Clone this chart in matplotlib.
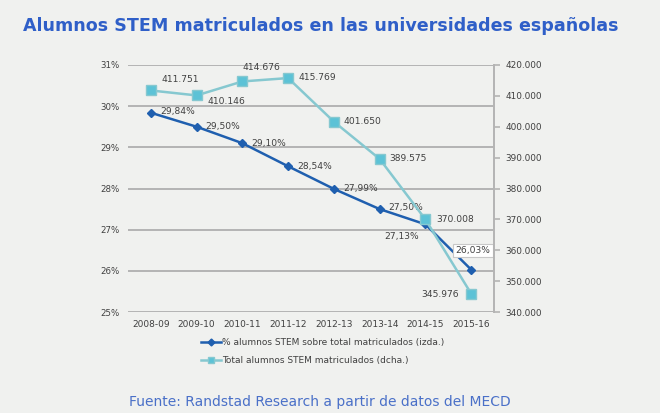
import matplotlib
matplotlib.use("Agg")
import matplotlib.pyplot as plt
from matplotlib.lines import Line2D

categories = ["2008-09", "2009-10", "2010-11", "2011-12", "2012-13", "2013-14", "2014-15", "2015-16"]
pct_stem = [29.84, 29.50, 29.10, 28.54, 27.99, 27.50, 27.13, 26.03]
total_stem = [411751, 410146, 414676, 415769, 401650, 389575, 370008, 345976]
left_ticks = [25, 26, 27, 28, 29, 30, 31]
right_ticks = [340000, 350000, 360000, 370000, 380000, 390000, 400000, 410000, 420000]

BG = "#f0f1ef"
DARK = "#1f5faf"
LIGHT = "#86c8d0"
LIGHT_FILL = "#5cc2d6"
TXT = "#404040"

fig = plt.figure(figsize=(6.6, 4.13), dpi=100, facecolor=BG)
ax = fig.add_axes([128/660, 1-312/413, (494-128)/660, (312-65)/413])
ax.set_facecolor(BG)
ax2 = ax.twinx()

x = list(range(len(categories)))

ax.plot(x, pct_stem, color=DARK, lw=1.8, marker="D", ms=4.5, mfc=DARK, mec=DARK, zorder=3)
ax2.plot(x, total_stem, color=LIGHT, lw=1.8, marker="s", ms=6.5, mfc=LIGHT_FILL, mec=LIGHT, zorder=3)

ax.set_xlim(-0.5, len(categories)-0.5)
ax.set_ylim(25, 31)
ax2.set_ylim(340000, 420000)

ax.set_yticks(left_ticks)
ax.set_yticklabels([f"{t}%" for t in left_ticks])
ax2.set_yticks(right_ticks)
ax2.set_yticklabels([f"{t//1000}.000" for t in right_ticks])
ax.set_xticks(x)
ax.set_xticklabels(categories)

ax.grid(axis="y", color="#b4b4b4", lw=1.4)
ax.set_axisbelow(True)
for s in ["top", "left", "bottom", "right"]:
    ax.spines[s].set_visible(False)
for s in ["top", "left", "bottom"]:
    ax2.spines[s].set_visible(False)
ax2.spines["right"].set_color("#b4b4b4")
ax2.spines["right"].set_linewidth(1.4)

ax.tick_params(axis="y", length=0, labelsize=6.2, labelcolor=TXT, pad=6)
ax.tick_params(axis="x", length=0, labelsize=6.5, labelcolor=TXT, pad=6)
ax2.tick_params(axis="y", length=4, color="#b4b4b4", width=1.2, labelsize=6.4, labelcolor=TXT, pad=4)

def fmt_pct(v):
    return f"{v:.2f}".replace(".", ",") + "%"

def fmt_tot(v):
    return f"{v//1000}.{v%1000:03d}"

FS = 6.6
k = 72/100
pct_off = [(9, 1, "left"), (9, 0, "left"), (9, 0, "left"), (9, 0, "left"), (9, 0, "left"),
           (9, 2, "left"), (-24, -12, "center"), (2, 19, "center")]
for i, (v, (dx, dy, ha)) in enumerate(zip(pct_stem, pct_off)):
    kw = {}
    if i == 7:
        kw["bbox"] = dict(boxstyle="square,pad=0.25", fc="white", ec="#c8c8c8", lw=0.8)
    ax.annotate(fmt_pct(v), (i, v), xytext=(dx*k, dy*k), textcoords="offset points",
                ha=ha, va="center", fontsize=FS, color=TXT, zorder=5, **kw)

tot_off = [(11, 11, "left"), (11, -6, "left"), (0, 14, "left"), (10, 1, "left"),
           (10, 0, "left"), (10, 0, "left"), (11, 0, "left"), (-12, -1, "right")]
for i, (v, (dx, dy, ha)) in enumerate(zip(total_stem, tot_off)):
    ax2.annotate(fmt_tot(v), (i, v), xytext=(dx*k, dy*k), textcoords="offset points",
                 ha=ha, va="center", fontsize=FS, color=TXT, zorder=5)

handles = [
    Line2D([], [], color=DARK, lw=1.8, marker="D", ms=3.5, mfc=DARK, mec=DARK),
    Line2D([], [], color=LIGHT, lw=1.8, marker="s", ms=5, mfc=LIGHT_FILL, mec=LIGHT),
]
labels = ["% alumnos STEM sobre total matriculados (izda.)",
          "Total alumnos STEM matriculados (dcha.)"]
fig.legend(handles, labels, loc="upper left", bbox_to_anchor=(201/660, 1-338/413),
           frameon=False, fontsize=6.5, labelcolor=TXT, handlelength=2.2,
           handletextpad=0.15, labelspacing=1.0, borderaxespad=0, borderpad=0)

fig.text(321/660, 1-26/413, "Alumnos STEM matriculados en las universidades españolas",
         ha="center", va="center", fontsize=12.6, fontweight="bold", color="#2f5fc8")
fig.text(320/660, 1-402/413, "Fuente: Randstad Research a partir de datos del MECD",
         ha="center", va="center", fontsize=10, color="#4a70c8")

fig.savefig("out.png", dpi=100, facecolor=BG)
